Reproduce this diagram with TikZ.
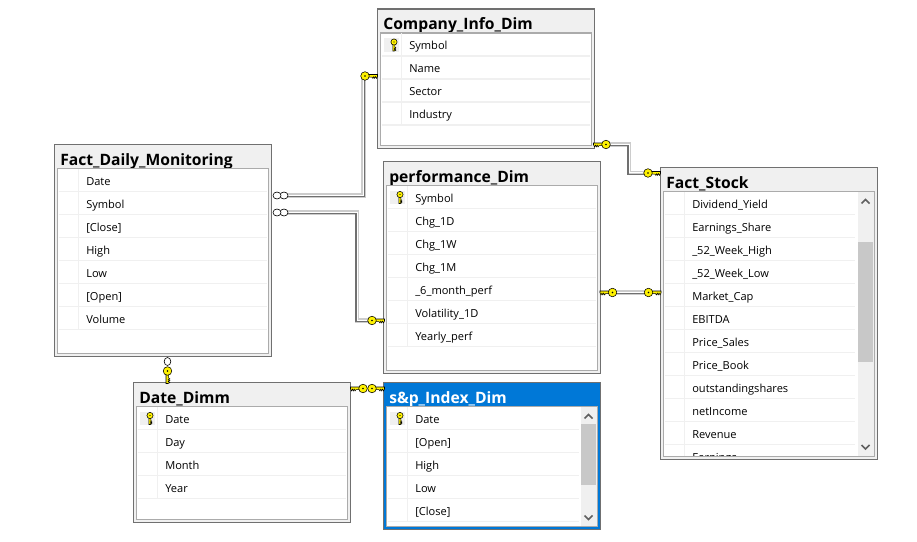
\documentclass[tikz,border=0pt]{standalone}
\usepackage{fontspec}
\usetikzlibrary{calc}
\setmainfont{Open Sans}
\definecolor{keyy}{HTML}{FFF200}
\definecolor{selblue}{HTML}{0078D7}
\definecolor{panel}{HTML}{F0F0F0}
\definecolor{edge}{HTML}{707070}
\definecolor{inedge}{HTML}{ABABAB}
\definecolor{thumb}{HTML}{C8C8C8}
\definecolor{arrowgr}{HTML}{606060}
\tikzset{
  plainbox/.style={fill=panel},
  selbox/.style={fill=selblue},
  plaintitle/.style={text=black},
  seltitle/.style={text=white},
  tblbox/.style={draw=edge,line width=1.2*.75pt,inner sep=0pt,outer sep=0pt,anchor=north west},
  tbltitle/.style={font=\fontsize{11.75pt}{13pt}\selectfont\bfseries,inner sep=0pt,anchor=base west},
  rowtxt/.style={font=\fontsize{8.3pt}{10pt}\selectfont,inner sep=0pt,anchor=base west,text=black},
  sepline/.style={draw=panel,line width=.9pt},
  cbase/.style={draw=black!20,line width=4.4*.75pt,line join=miter},
  cdark/.style={draw=edge,line width=1.4*.75pt},
  clight/.style={draw=white,line width=1.2*.75pt},
  keybody/.style={fill=keyy,draw=black,line width=.4pt},
  ringo/.style={draw=black,fill=white,line width=.45pt},
  bigkey/.pic={
    \path[keybody] (3,-1.5) -- (12.5,-1.5) -- (12.5,0.4) -- (11.5,2.4) -- (10.6,0.6) -- (9.7,2.4) -- (8.8,0.6) -- (7.9,2.4) -- (7,1.1) -- (3,1.1) -- cycle;
    \path[keybody] (0,0) circle (4.3);
    \fill[black] (0,0) circle (0.95);
  },
}
\newcommand\conn[2]{%
  \draw[cbase] #2;
  \draw[cdark,transform canvas={xshift=#1*.75pt,yshift=-1.2*.75pt}] #2;
  \draw[clight,transform canvas={xshift=-#1*.12pt,yshift=.2*.75pt}] #2;
}
\newcommand\dbtable[9]{%
  \node[tblbox,#9box,minimum width={(#4-#2)*.75pt},minimum height={(#5-#3)*.75pt}] (#1) at (#2,#3) {};
  \node[tbltitle,#9title] (#1-title) at ({#2+5.5},{#3+20.5}) {#6};
  \path[fill=white,draw=inedge,line width=1.2*.75pt] ({#2+3},{#3+24}) rectangle ({#4-3},{#5-3});
  \begin{scope}
    \clip ({#2+3.7},{#3+24.7}) rectangle ({#4-3.7},{#5-3.7});
    \foreach \t [count=\i] in {#8} {
      \draw[sepline] ({#2+4},{#3+24+23*\i}) -- ({#7},{#3+24+23*\i});
      \draw[sepline] ({#2+24},{#3+24+23*(\i-1)}) -- ({#2+24},{#3+24+23*\i});
      \node[rowtxt] (#1-\i) at ({#2+31.5},{#3+40.5+23*(\i-1)}) {\t};
    }
  \end{scope}
}
\newcommand\pk[2]{%
  \fill[panel] ({#1+6.5},{#2+29.3}) rectangle ({#1+21.5},{#2+42.7});
  \pic[rotate=-90,yscale=-1,scale=.72] at ({#1+16.5},{#2+33}) {bigkey};
}
\newcommand\chevup[2]{\draw[arrowgr,line width=1.6*.75pt] ({#1-4},{#2+2.5}) -- ({#1},{#2-1.5}) -- ({#1+4},{#2+2.5});}
\newcommand\chevdn[2]{\draw[arrowgr,line width=1.6*.75pt] ({#1-4},{#2-2.5}) -- ({#1},{#2+1.5}) -- ({#1+4},{#2-2.5});}
\begin{document}
\begin{tikzpicture}[x=.75pt,y=-.75pt]
\useasboundingbox[fill=white] (0,0) rectangle (917,542);
% connector anchor coordinates
\coordinate (ia) at (284,195.5); \coordinate (ca1) at (363.5,195.5); \coordinate (ka) at (365,76);
\coordinate (ca2) at (363.5,76);
\coordinate (ib) at (284,212.5); \coordinate (cb1) at (357,212.5); \coordinate (cb2) at (357,320.5); \coordinate (kb) at (372,320.5);
\coordinate (kc1) at (606,144.5); \coordinate (cc1) at (629,144.5); \coordinate (cc2) at (629,173); \coordinate (kc2) at (648,173);
\coordinate (kd1) at (612.5,292.5); \coordinate (kd2) at (648.5,292.5);
\coordinate (ke) at (167.5,371); \coordinate (ie) at (167.5,361.5);
\coordinate (kf1) at (363,388.5); \coordinate (kf2) at (372,388.5);
% connectors
\conn{1.1}{(ia) -- (ca1) -- (ca2) -- (ka)}
\conn{-1.1}{(ib) -- (cb1) -- (cb2) -- (kb)}
\conn{-1.1}{(kc1) -- (cc1) -- (cc2) -- (kc2)}
\conn{0}{(kd1) -- (kd2)}
% tables
\dbtable{company}{377.5}{9}{594.5}{148.5}{Company\_Info\_Dim}{589.5}{Symbol,Name,Sector,Industry}{plain}
\dbtable{perf}{383.5}{161.5}{600.5}{373.5}{performance\_Dim}{595.5}{Symbol,Chg\_1D,Chg\_1W,Chg\_1M,\_6\_month\_perf,Volatility\_1D,Yearly\_perf}{plain}
\dbtable{daily}{54.5}{144.5}{271.5}{356.5}{Fact\_Daily\_Monitoring}{266.5}{Date,Symbol,{[Close]},High,Low,{[Open]},Volume}{plain}
\dbtable{date}{133.5}{382.5}{350.5}{522.5}{Date\_Dimm}{345.5}{Date,Day,Month,Year}{plain}
\dbtable{sp}{383.5}{382.5}{600.5}{529.5}{s\&p\_Index\_Dim}{578.5}{Date,{[Open]},High,Low,{[Close]}}{sel}
\dbtable{stock}{660.5}{167.5}{877.5}{459.5}{Fact\_Stock}{855}{Dividend\_Yield,Earnings\_Share,\_52\_Week\_High,\_52\_Week\_Low,Market\_Cap,EBITDA,Price\_Sales,Price\_Book,outstandingshares,netIncome,Revenue,Earnings}{plain}
% primary key marks
\pk{377.5}{9}
\pk{383.5}{161.5}
\pk{133.5}{382.5}
\pk{383.5}{382.5}
% scrollbars
\fill[panel] (581,407) rectangle (597,526);
\fill[thumb] (581,424) rectangle (596,485);
\chevup{588.5}{416}\chevdn{588.5}{518}
\fill[panel] (858,192) rectangle (874,456);
\fill[thumb] (858,241.5) rectangle (873,361.5);
\chevup{865.5}{201}\chevdn{865.5}{447.5}
% connector ends
\pic at (ka) {bigkey};
\pic at (kb) {bigkey};
\pic[xscale=-1] at (kc1) {bigkey};
\pic at (kc2) {bigkey};
\pic[xscale=-1] at (kd1) {bigkey};
\pic at (kd2) {bigkey};
\pic[rotate=-90,yscale=-1] at (ke) {bigkey};
\path[ringo] (ie) ellipse (3.3 and 4);
\pic[xscale=-1] at (kf1) {bigkey};
\pic at (kf2) {bigkey};
\path[ringo] (ia) ellipse (4 and 3.5);
\path[ringo] ($(ia)+(-7,0)$) ellipse (4 and 3.5);
\path[ringo] (ib) ellipse (4 and 3.5);
\path[ringo] ($(ib)+(-7,0)$) ellipse (4 and 3.5);
\end{tikzpicture}
\end{document}
